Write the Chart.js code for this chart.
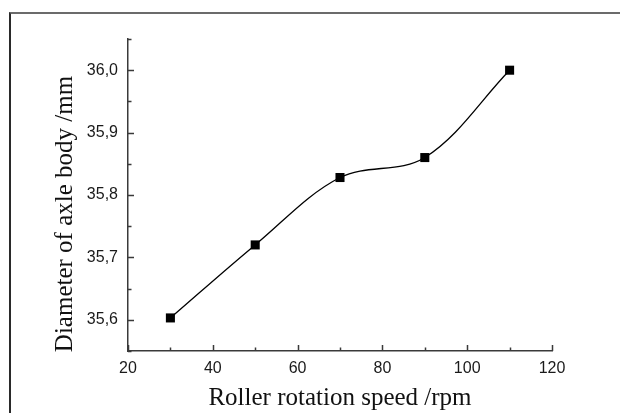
<!DOCTYPE html>
<html>
<head>
<meta charset="utf-8">
<title>Diameter of axle body vs roller rotation speed</title>
<script src="https://cdn.jsdelivr.net/npm/chart.js@4.4.0/dist/chart.umd.min.js"></script>
<style>
    html, body { margin: 0; padding: 0; background: #fff; }
    #wrap { position: relative; width: 620px; height: 413px; overflow: hidden; }
    #frame {
        position: absolute; left: 9px; top: 12px; right: -10px; bottom: -10px;
        border-top: 2px solid #6b6b6b; border-left: 2px solid #2a2a2a;
        pointer-events: none;
    }
    #chart { position: absolute; left: 0; top: 0; }
</style>
</head>
<body>
<div id="wrap">
    <div id="frame"></div>
    <canvas id="chart" width="620" height="413"></canvas>
</div>
<script>
// ============== DATA ==============
const speeds = [30, 50, 70, 90, 110];                  // rpm
const diameters = [35.603, 35.72, 35.828, 35.86, 36.0]; // mm

const xMajorTicks = [20, 40, 60, 80, 100, 120];
const xMinorTicks = [30, 50, 70, 90, 110];
const yMajorTicks = [35.6, 35.7, 35.8, 35.9, 36.0];
const yMinorTicks = [35.55, 35.65, 35.75, 35.85, 35.95, 36.05];

const xTitle = 'Roller rotation speed /rpm';
const yTitle = 'Diameter of axle body /mm';

const axisColor = '#3a3a3a';
const tickFont = { family: '"Liberation Sans", Arial, sans-serif', size: 16 };
const titleFamily = '"Liberation Serif", "Times New Roman", serif';

// Inward ticks + rotated y title (Origin style)
const originAxes = {
    id: 'originAxes',
    afterDraw(chart) {
        const { ctx, scales: { x, y }, chartArea } = chart;
        ctx.save();
        ctx.strokeStyle = axisColor;
        ctx.lineWidth = 1.5;
        ctx.beginPath();
        const xTick = (v, len) => {
            const px = Math.round(x.getPixelForValue(v)) + 0.5;
            ctx.moveTo(px, chartArea.bottom);
            ctx.lineTo(px, chartArea.bottom - len);
        };
        const yTick = (v, len) => {
            const py = Math.round(y.getPixelForValue(v)) + 0.5;
            ctx.moveTo(chartArea.left, py);
            ctx.lineTo(chartArea.left + len, py);
        };
        xMajorTicks.forEach(v => xTick(v, 6));
        xMinorTicks.forEach(v => xTick(v, 3.5));
        yMajorTicks.forEach(v => yTick(v, 6));
        yMinorTicks.forEach(v => yTick(v, 3.5));
        ctx.stroke();

        // y axis title
        ctx.fillStyle = '#111';
        ctx.font = '25px ' + titleFamily;
        ctx.textAlign = 'center';
        ctx.textBaseline = 'middle';
        ctx.translate(65, 214);
        ctx.rotate(-Math.PI / 2);
        ctx.fillText(yTitle, 0, 0);
        ctx.restore();
    }
};

const ctx = document.getElementById('chart').getContext('2d');
const chart = new Chart(ctx, {
    type: 'line',
    data: {
        datasets: [{
            data: speeds.map((s, i) => ({ x: s, y: diameters[i] })),
            borderColor: '#000',
            borderWidth: 1.3,
            backgroundColor: '#000',
            pointStyle: 'rect',
            pointRadius: 6.4,
            pointBorderWidth: 0,
            pointHoverRadius: 6.4,
            tension: 0.35,
            fill: false
        }]
    },
    options: {
        responsive: false,
        animation: false,
        layout: { padding: { top: 39, right: 68, left: 0, bottom: 0 } },
        plugins: {
            legend: { display: false },
            tooltip: { enabled: false }
        },
        scales: {
            x: {
                type: 'linear',
                min: 20,
                max: 120,
                grid: { display: false, drawTicks: false },
                border: { display: true, color: axisColor, width: 1.5 },
                ticks: {
                    stepSize: 20,
                    color: '#1a1a1a',
                    font: tickFont,
                    padding: 8,
                    maxRotation: 0
                },
                title: {
                    display: true,
                    text: xTitle,
                    color: '#111',
                    font: { family: titleFamily, size: 25 },
                    padding: { top: 0, bottom: 0 }
                },
                afterFit(scale) { scale.height = 62; }
            },
            y: {
                min: 35.55,
                max: 36.05,
                grid: { display: false, drawTicks: false },
                border: { display: true, color: axisColor, width: 1.5 },
                ticks: {
                    color: '#1a1a1a',
                    font: tickFont,
                    padding: 10,
                    callback: v => v.toFixed(1).replace('.', ',')
                },
                afterBuildTicks(scale) {
                    scale.ticks = yMajorTicks.map(v => ({ value: v }));
                },
                afterFit(scale) { scale.width = 128; }
            }
        }
    },
    plugins: [originAxes]
});
</script>
</body>
</html>
